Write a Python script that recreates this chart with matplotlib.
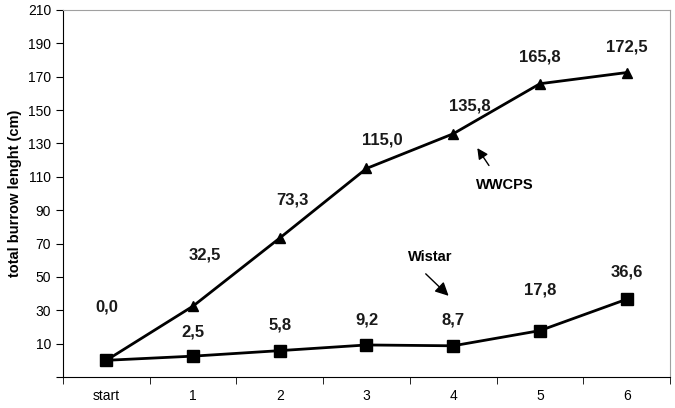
import matplotlib
matplotlib.use('Agg')
import matplotlib.pyplot as plt
import numpy as np

plt.rcParams['font.family'] = ['Liberation Sans', 'DejaVu Sans']

# data
categories = ['start', '1', '2', '3', '4', '5', '6']
wwcps = [0.0, 32.5, 73.3, 115.0, 135.8, 165.8, 172.5]
wistar = [0.0, 2.5, 5.8, 9.2, 8.7, 17.8, 36.6]
wwcps_labels = ['32,5', '73,3', '115,0', '135,8', '165,8', '172,5']
wistar_labels = ['0,0', '2,5', '5,8', '9,2', '8,7', '17,8', '36,6']
yticks = [-10, 10, 30, 50, 70, 90, 110, 130, 150, 170, 190, 210]

# label offsets in pixels (dx, dy)
wwcps_off = [(12, 51), (13, 38), (16, 28), (17, 28), (0, 27), (0, 26)]
wistar_off = [(0, 53), (0, 24), (0, 26), (0, 25), (0, 26), (0, 41), (0, 27)]

fig = plt.figure(figsize=(6.75, 4.08), dpi=100)
ax = fig.add_axes([0.0933, 0.076, 0.8993, 0.8995])

x = np.arange(len(categories))
ax.plot(x, wwcps, color='black', lw=2, marker='^', ms=7, mfc='black', zorder=3)
ax.plot(x, wistar, color='black', lw=2, marker='s', ms=8, mfc='black', zorder=3)

px = 72 / 100
for i, lab in enumerate(wwcps_labels):
    dx, dy = wwcps_off[i]
    ax.annotate(lab, (x[i + 1], wwcps[i + 1]), xytext=(dx * px, dy * px),
                textcoords='offset points', ha='center', va='center',
                fontsize=12, fontweight='bold', color='#1a1a1a')
for i, lab in enumerate(wistar_labels):
    dx, dy = wistar_off[i]
    ax.annotate(lab, (x[i], wistar[i]), xytext=(dx * px, dy * px),
                textcoords='offset points', ha='center', va='center',
                fontsize=12, fontweight='bold', color='#1a1a1a')

# series names with arrows
ax.annotate('', xy=(4.26, 128.6), xytext=(4.43, 115.4),
            arrowprops=dict(arrowstyle='-|>', color='black', lw=1, mutation_scale=16))
ax.text(4.60, 105.2, 'WWCPS', ha='center', va='center', fontsize=10.5, fontweight='bold')
ax.annotate('', xy=(3.97, 37.5), xytext=(3.66, 53),
            arrowprops=dict(arrowstyle='-|>', color='black', lw=1, mutation_scale=20))
ax.text(3.73, 62.1, 'Wistar', ha='center', va='center', fontsize=10.5, fontweight='bold')

ax.set_xlim(-0.5, 6.5)
ax.set_ylim(-10, 210)
ax.set_yticks(yticks)
ax.set_yticklabels([''] + [str(v) for v in yticks[1:]], fontsize=10)
ax.set_xticks(x)
ax.set_xticklabels(categories, fontsize=10)
ax.set_xticks(np.arange(-0.5, 7, 1), minor=True)
ax.tick_params(axis='x', which='major', length=0, pad=9)
ax.tick_params(axis='x', which='minor', length=5, direction='out')
ax.tick_params(axis='y', length=5, direction='out')
ax.set_ylabel('total burrow lenght (cm)', fontsize=10.5, fontweight='bold')

for s in ['top', 'right']:
    ax.spines[s].set_color('#a0a0a0')
for s in ['left', 'bottom']:
    ax.spines[s].set_color('black')

fig.savefig('out.png', dpi=100)
